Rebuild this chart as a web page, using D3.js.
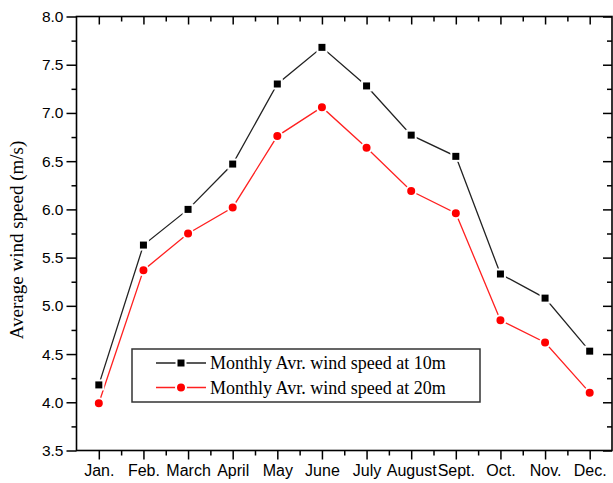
<!DOCTYPE html>
<html>
<head>
<meta charset="utf-8">
<script src="https://cdn.jsdelivr.net/npm/d3@7"></script>
<style>
  html, body { margin: 0; padding: 0; background: #fff; }
  svg { display: block; }
</style>
</head>
<body>
<script>
const months = ["Jan.", "Feb.", "March", "April", "May", "June", "July", "August", "Sept.", "Oct.", "Nov.", "Dec."];
const speed10m = [4.18, 5.63, 6.00, 6.47, 7.30, 7.68, 7.28, 6.77, 6.55, 5.33, 5.08, 4.53];
const speed20m = [3.99, 5.37, 5.75, 6.02, 6.76, 7.06, 6.64, 6.19, 5.96, 4.85, 4.62, 4.10];
const yTicks = [3.5, 4.0, 4.5, 5.0, 5.5, 6.0, 6.5, 7.0, 7.5, 8.0];
const seriesNames = ["Monthly Avr. wind speed at 10m", "Monthly Avr. wind speed at 20m"];

(function () {
const W = 613, H = 483;
const L = 76.5, R = 612, T = 16.5, B = 450.5;

const svg = d3.select("body").append("svg").attr("width", W).attr("height", H);

const x = d3.scaleLinear().domain([0.5, 12.5]).range([L, R]);
const y = d3.scaleLinear().domain([3.5, 8.0]).range([B, T]);

const idx = d3.range(1, 13);
const minorX = d3.range(1.5, 12.5, 1);
const minorY = d3.range(3.75, 8.0, 0.5);

const axisColor = "#000";
const sans = "Liberation Sans, Arial, sans-serif";
const serif = "Liberation Serif, Times New Roman, serif";

const gBottom = svg.append("g").attr("transform", `translate(0,${B})`)
  .call(d3.axisBottom(x).tickValues(idx).tickFormat(i => months[i - 1]).tickSize(9).tickPadding(5));
gBottom.append("g").call(d3.axisBottom(x).tickValues(minorX).tickFormat("").tickSize(5));
const gTop = svg.append("g").attr("transform", `translate(0,${T})`)
  .call(d3.axisBottom(x).tickValues(idx).tickFormat("").tickSize(8));
gTop.append("g").call(d3.axisBottom(x).tickValues(minorX).tickFormat("").tickSize(5));
const gLeft = svg.append("g").attr("transform", `translate(${L},0)`)
  .call(d3.axisLeft(y).tickValues(yTicks).tickFormat(d3.format(".1f")).tickSize(10).tickPadding(3));
gLeft.append("g").call(d3.axisLeft(y).tickValues(minorY).tickFormat("").tickSize(5));
const gRight = svg.append("g").attr("transform", `translate(${R},0)`)
  .call(d3.axisRight(y).tickValues(yTicks).tickFormat("").tickSize(-9));
gRight.append("g").call(d3.axisRight(y).tickValues(minorY).tickFormat("").tickSize(-5));

svg.selectAll(".domain").remove();
svg.selectAll(".tick line").attr("stroke", axisColor).attr("stroke-width", 1.5);
svg.append("rect").attr("x", L).attr("y", T).attr("width", R - L).attr("height", B - T)
  .attr("fill", "none").attr("stroke", axisColor).attr("stroke-width", 1.6);

gBottom.selectAll("text").attr("font-family", sans).attr("font-size", 16).attr("fill", "#000");
gLeft.selectAll("text").attr("font-family", sans).attr("font-size", 15.5).attr("fill", "#000");

svg.append("text")
  .attr("transform", `translate(23,240) rotate(-90)`)
  .attr("text-anchor", "middle")
  .attr("font-family", serif).attr("font-size", 19).attr("fill", "#000")
  .text("Average wind speed (m/s)");

const line = d3.line().x((d, i) => x(i + 1)).y(d => y(d));

const series = [
  { data: speed10m, color: "#000", lineColor: "#222", shape: "square" },
  { data: speed20m, color: "#ff0000", lineColor: "#ff2020", shape: "circle" }
];

function drawMarker(g, shape, cx, cy, color) {
  if (shape === "square") {
    g.append("rect").attr("x", cx - 4.5).attr("y", cy - 4.5).attr("width", 9).attr("height", 9)
      .attr("fill", color).attr("stroke", "#fff").attr("stroke-width", 2);
  } else {
    g.append("circle").attr("cx", cx).attr("cy", cy).attr("r", 5)
      .attr("fill", color).attr("stroke", "#fff").attr("stroke-width", 2);
  }
}

series.forEach(s => {
  svg.append("path").datum(s.data).attr("d", line)
    .attr("fill", "none").attr("stroke", s.lineColor).attr("stroke-width", 1.3);
});
series.forEach(s => {
  const g = svg.append("g");
  s.data.forEach((v, i) => drawMarker(g, s.shape, x(i + 1), y(v), s.color));
});

const lg = svg.append("g");
lg.append("rect").attr("x", 132).attr("y", 349).attr("width", 348).attr("height", 53)
  .attr("fill", "#fff").attr("stroke", "#333").attr("stroke-width", 1.5);
series.forEach((s, k) => {
  const ly = 363 + k * 24.5;
  lg.append("line").attr("x1", 156).attr("x2", 206).attr("y1", ly).attr("y2", ly)
    .attr("stroke", s.lineColor).attr("stroke-width", 1.3);
  drawMarker(lg, s.shape, 181, ly, s.color);
  lg.append("text").attr("x", 210).attr("y", ly + 6)
    .attr("font-family", serif).attr("font-size", 18).attr("fill", "#000")
    .text(seriesNames[k]);
});
})();
</script>
</body>
</html>
